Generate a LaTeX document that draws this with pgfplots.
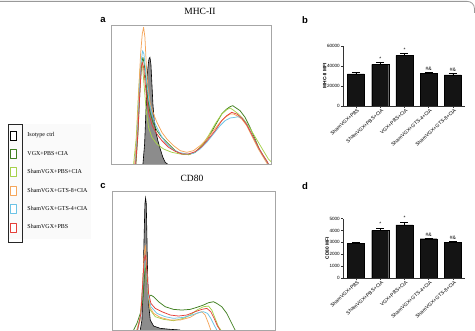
\documentclass[border=0pt]{standalone}
\usepackage{pgfplots}
\pgfplotsset{compat=1.18}
\usepackage{fontspec}
\setmainfont{Liberation Serif}
\setsansfont{Liberation Sans}
\definecolor{isogray}{HTML}{8C8C8C}
\definecolor{dgreen}{HTML}{3F7F1F}
\definecolor{lgreen}{HTML}{A6D14A}
\definecolor{lorange}{HTML}{F5A65B}
\definecolor{lblue}{HTML}{6CC3E6}
\definecolor{lred}{HTML}{E5403A}
\pgfplotsset{
  histo/.style={scale only axis, anchor=south west, xtick=\empty, ytick=\empty,
    axis line style={gray!70, line width=0.6pt}, ymin=0, clip=true},
  bars/.style={scale only axis, anchor=south west, width=122pt,
    axis x line*=bottom, axis y line*=left, axis line style={line width=0.6pt, black!80},
    xmin=-0.536, xmax=4.495, ymin=0, tick align=outside, major tick length=2pt,
    tick style={black!80, line width=0.5pt},
    xtick={0,1,2,3,4},
    xticklabels={ShamVGX+PBS,ShamVGX+PBS+CIA,VGX+PBS+CIA,ShamVGX+GTS-4+CIA,ShamVGX+GTS-8+CIA},
    xticklabel style={rotate=42, anchor=north east, font=\sffamily\fontsize{5}{6}\selectfont, inner sep=0.8pt, xshift=1.5pt},
    yticklabel style={font=\sffamily\fontsize{4.6}{5}\selectfont, inner sep=1pt},
    ylabel style={font=\sffamily\bfseries\fontsize{4.8}{5}\selectfont, yshift=-4pt},
    scaled y ticks=false,
    /pgf/number format/1000 sep={},
    /pgf/number format/assume math mode=true},
  hl/.style={line width=0.75pt, line join=round}
}
\begin{document}
\begin{tikzpicture}[x=1pt,y=1pt]
\useasboundingbox (0pt,0pt) rectangle (475pt,331pt);
\draw[gray!80, line width=0.8pt, rounded corners=7pt] (0pt,329.6pt) -- (474.4pt,329.6pt) -- (474.4pt,318pt);

% panel labels and titles
\node[font=\sffamily\bfseries\fontsize{9.5}{10}\selectfont] at (103pt,311pt) {a};
\node[font=\sffamily\bfseries\fontsize{9.5}{10}\selectfont] at (305pt,311pt) {b};
\node[font=\sffamily\bfseries\fontsize{9.5}{10}\selectfont] at (103pt,145pt) {c};
\node[font=\sffamily\bfseries\fontsize{9.5}{10}\selectfont] at (305pt,145pt) {d};
\node[font=\fontsize{9.5}{10}\selectfont] at (200pt,320pt) {MHC-II};
\node[font=\fontsize{9.5}{10}\selectfont] at (192pt,153pt) {CD80};

% ---------- panel a ----------
\begin{axis}[histo, at={(111pt,167pt)}, width=160pt, height=139pt, xmin=62, xmax=543, ymax=417,
  legend style={at={(-0.644,0.288)}, anchor=north west, draw=none, fill=gray!4,
    font=\fontsize{6}{6.5}\selectfont, row sep=8.6pt, inner xsep=1.5pt, inner ysep=6.5pt,
    /tikz/every odd column/.append style={column sep=9pt}},
  legend cell align=left,
  legend image code/.code={\draw[fill=white,line width=0.8pt,#1] (0pt,-4.5pt) rectangle (6pt,4.5pt);}]
\addplot[draw=black, fill=isogray, line width=0.6pt] coordinates {(158,0) (163,60) (168,180) (172,280) (176,315) (179,320) (182,300) (185,240) (188,180) (192,130) (197,95) (203,70) (210,45) (218,20) (225,5) (232,0)};
\addlegendentry{Isotype ctrl}
\addplot[hl, dgreen] coordinates {(137,0) (143,90) (149,220) (154,300) (158,320) (162,300) (167,250) (172,200) (178,160) (188,125) (200,100) (215,80) (235,60) (255,40) (275,30) (295,28) (315,35) (335,55) (355,80) (375,115) (395,150) (410,165) (420,172) (428,175) (438,168) (450,160) (465,140) (480,110) (495,75) (510,40) (525,15) (535,0)};
\addlegendentry{VGX+PBS+CIA}
\addplot[hl, lgreen] coordinates {(130,0) (138,80) (144,200) (149,280) (153,305) (157,290) (162,230) (168,160) (175,110) (185,80) (200,60) (220,45) (245,35) (270,30) (295,28) (315,35) (335,55) (355,85) (375,120) (395,150) (410,163) (420,168) (432,160) (445,150) (460,135) (475,115) (490,90) (505,65) (520,40) (535,15) (545,5)};
\addlegendentry{ShamVGX+PBS+CIA}
\addplot[hl, lorange] coordinates {(133,0) (140,90) (146,230) (151,330) (156,390) (160,410) (164,380) (168,300) (173,230) (180,180) (190,150) (200,125) (215,95) (230,75) (250,55) (270,40) (290,35) (310,40) (330,55) (350,75) (370,100) (390,125) (405,140) (420,150) (430,150) (440,145) (455,135) (470,115) (490,75) (505,45) (520,20) (532,0)};
\addlegendentry{ShamVGX+GTS-8+CIA}
\addplot[hl, lblue] coordinates {(135,0) (142,100) (148,230) (153,310) (157,340) (161,330) (165,290) (170,240) (176,190) (185,150) (195,120) (210,90) (225,65) (245,45) (265,35) (290,30) (310,32) (330,45) (350,65) (370,90) (390,115) (405,130) (420,138) (435,140) (445,142) (455,138) (470,120) (490,80) (505,50) (520,25) (535,0)};
\addlegendentry{ShamVGX+GTS-4+CIA}
\addplot[hl, lred] coordinates {(136,0) (142,80) (148,200) (153,290) (156,305) (160,290) (165,240) (170,190) (176,150) (186,115) (200,90) (215,70) (235,50) (255,38) (275,30) (295,30) (315,37) (335,52) (355,75) (375,100) (395,130) (410,145) (425,155) (440,150) (455,138) (470,118) (490,80) (505,50) (520,25) (530,10) (535,0)};
\addlegendentry{ShamVGX+PBS}
\end{axis}
\draw[black!85, line width=0.9pt] (8pt,89pt) rectangle (22pt,207pt);

% ---------- panel c ----------
\begin{axis}[histo, at={(112pt,1pt)}, width=163pt, height=139pt, xmin=65, xmax=555, ymax=418]
\addplot[draw=black, fill=isogray, line width=0.6pt] coordinates {(150,0) (155,30) (158,120) (161,260) (164,380) (166,397) (168,380) (170,280) (172,170) (175,80) (180,30) (190,12) (210,5) (240,2) (270,0)};
\addplot[hl, dgreen] coordinates {(130,0) (140,20) (150,50) (158,90) (164,180) (167,190) (171,130) (176,100) (182,105) (190,100) (205,85) (225,70) (250,62) (275,60) (300,62) (320,68) (340,75) (355,82) (370,85) (380,80) (395,70) (410,50) (425,20) (435,0)};
\addplot[hl, lgreen] coordinates {(140,0) (150,40) (157,130) (162,200) (165,210) (169,160) (174,100) (180,60) (195,40) (220,32) (250,28) (280,35) (300,45) (320,60) (340,70) (355,72) (365,60) (375,35) (385,10) (392,0)};
\addplot[hl, lorange] coordinates {(140,0) (150,30) (156,120) (161,220) (165,255) (169,200) (173,120) (178,70) (190,50) (210,38) (240,30) (270,30) (300,38) (320,50) (335,55) (345,45) (355,20) (362,0)};
\addplot[hl, lblue] coordinates {(142,0) (152,45) (158,140) (163,205) (166,210) (170,160) (175,100) (182,70) (200,50) (225,40) (250,35) (280,38) (305,45) (325,52) (340,55) (352,50) (362,35) (372,15) (380,0)};
\addplot[hl, lred] coordinates {(142,0) (152,50) (158,150) (162,215) (166,225) (170,170) (175,110) (182,80) (195,65) (215,55) (240,45) (265,42) (290,45) (315,55) (335,62) (350,65) (362,55) (372,35) (382,12) (390,0)};
\end{axis}

% ---------- panel b ----------
\begin{axis}[bars, at={(343pt,225pt)}, height=60pt, ymax=60000, ytick={0,20000,40000,60000}, ylabel={MHC-II MFI}]
\addplot[ybar, bar width=17pt, fill=black!92, draw=black,
  error bars/.cd, y dir=plus, y explicit, error mark options={rotate=90, mark size=4pt, line width=0.6pt}, error bar style={line width=0.6pt}]
  coordinates {(0,32000) +- (0,1500) (1,41700) +- (0,2300) (2,50700) +- (0,2000) (3,32700) +- (0,500) (4,31000) +- (0,2000)};
\addplot[only marks, mark=none, nodes near coords, point meta=explicit symbolic,
  nodes near coords style={font=\sffamily\fontsize{5}{5.5}\selectfont, anchor=south, inner sep=0.5pt}]
  coordinates {(1,45000) [*] (2,53800) [*] (3,34500) [\#\&] (4,34000) [\#\&]};
\end{axis}

% ---------- panel d ----------
\begin{axis}[bars, at={(343pt,53pt)}, height=59.3pt, ymax=5000, ytick={0,1000,2000,3000,4000,5000}, ylabel={CD80 MFI}]
\addplot[ybar, bar width=17pt, fill=black!92, draw=black,
  error bars/.cd, y dir=plus, y explicit, error mark options={rotate=90, mark size=4pt, line width=0.6pt}, error bar style={line width=0.6pt}]
  coordinates {(0,2950) +- (0,50) (1,4020) +- (0,190) (2,4480) +- (0,240) (3,3310) +- (0,40) (4,2980) +- (0,110)};
\addplot[only marks, mark=none, nodes near coords, point meta=explicit symbolic,
  nodes near coords style={font=\sffamily\fontsize{5}{5.5}\selectfont, anchor=south, inner sep=0.5pt}]
  coordinates {(1,4330) [*] (2,4850) [*] (3,3450) [\#\&] (4,3200) [\#\&]};
\end{axis}
\end{tikzpicture}
\end{document}
